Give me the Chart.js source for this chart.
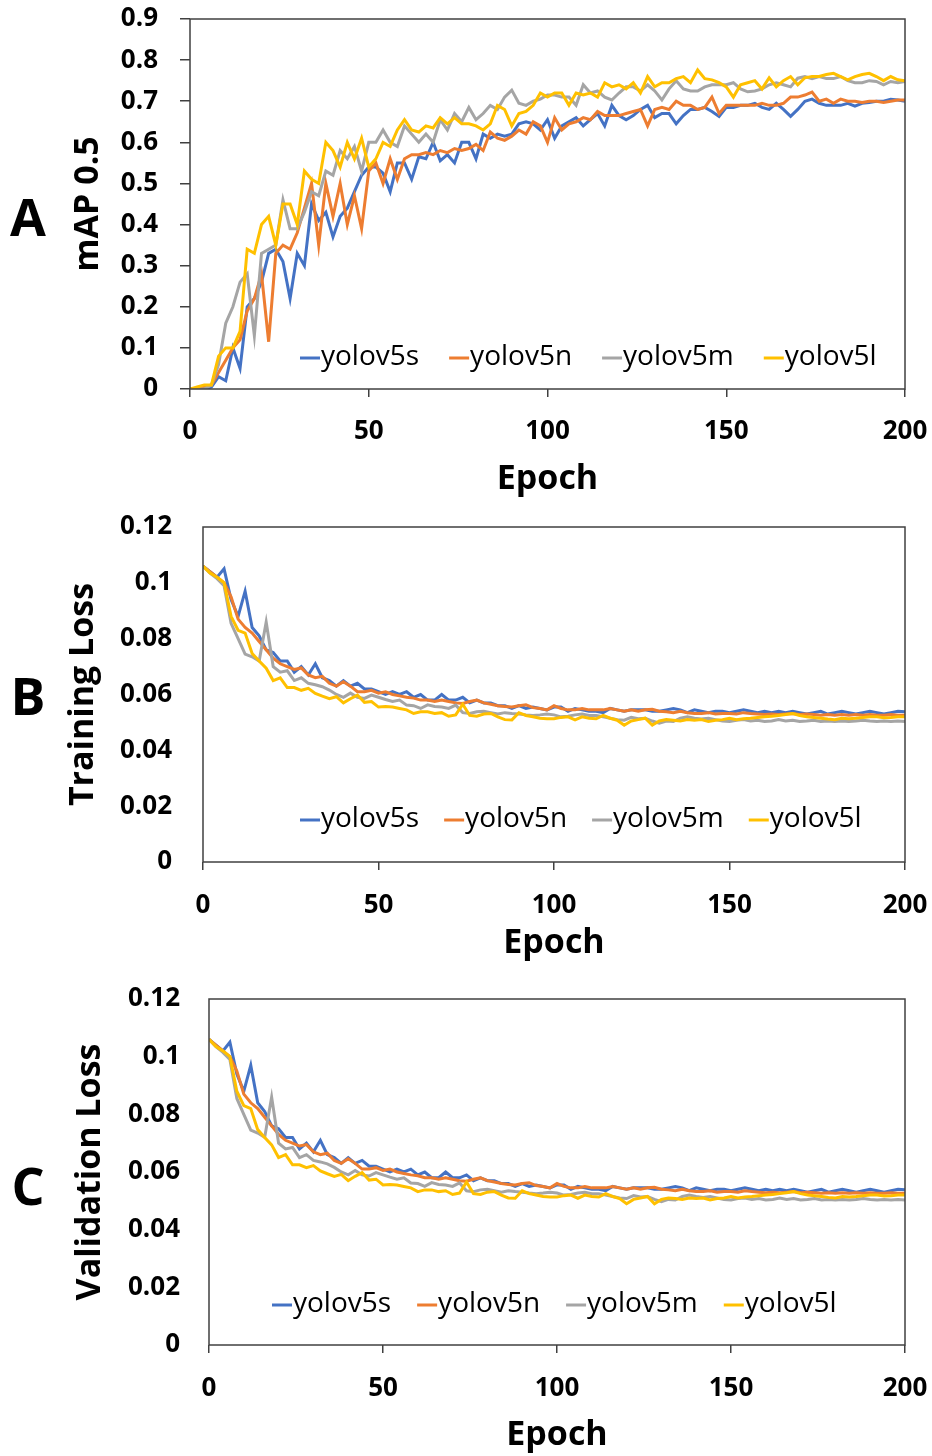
<!DOCTYPE html>
<html>
<head>
<meta charset="utf-8">
<script src="https://cdn.jsdelivr.net/npm/chart.js@4.4.0/dist/chart.umd.min.js"></script>
<style>
  body { margin: 0; background: #fff; width: 932px; height: 1456px; position: relative; overflow: hidden; font-family: "Open Sans", sans-serif; }
  canvas { position: absolute; left: 0; }
  .tag { position: absolute; left: 0; width: 56px; text-align: center; font-size: 52px; font-weight: bold; line-height: 52px; color: #000; }
</style>
</head>
<body>
<canvas id="map-chart" width="932" height="500" style="top:0"></canvas>
<canvas id="train-chart" width="932" height="470" style="top:500px"></canvas>
<canvas id="val-chart" width="932" height="486" style="top:970px"></canvas>
<div class="tag" style="top:190px">A</div>
<div class="tag" style="top:669px">B</div>
<div class="tag" style="top:1159px">C</div>
<script>
// epochs (every 2nd epoch)
var epochs = [0,2,4,6,8,10,12,14,16,18,20,22,24,26,28,30,32,34,36,38,40,42,44,46,48,50,52,54,56,58,
  60,62,64,66,68,70,72,74,76,78,80,82,84,86,88,90,92,94,96,98,100,102,104,106,108,110,112,114,116,118,
  120,122,124,126,128,130,132,134,136,138,140,142,144,146,148,150,152,154,156,158,160,162,164,166,168,170,
  172,174,176,178,180,182,184,186,188,190,192,194,196,198,200];

var names = ['yolov5s', 'yolov5n', 'yolov5m', 'yolov5l'];
var colors = ['#4472C4', '#ED7D31', '#A5A5A5', '#FFC000'];

// A - mAP 0.5
var mapS = [0,0,0,0.005,0.03,0.02,0.1,0.05,0.2,0.22,
  0.26,0.33,0.34,0.31,0.22,0.33,0.3,0.45,0.41,0.43,
  0.37,0.42,0.44,0.48,0.52,0.54,0.54,0.525,0.48,0.55,
  0.55,0.51,0.565,0.56,0.6,0.555,0.57,0.55,0.6,0.6,
  0.56,0.62,0.61,0.62,0.615,0.62,0.645,0.65,0.645,0.63,
  0.655,0.61,0.64,0.65,0.66,0.64,0.655,0.67,0.64,0.69,
  0.665,0.655,0.665,0.68,0.69,0.66,0.67,0.67,0.645,0.665,
  0.68,0.68,0.685,0.675,0.663,0.685,0.685,0.69,0.69,0.695,
  0.685,0.68,0.695,0.68,0.663,0.68,0.7,0.705,0.695,0.69,
  0.69,0.69,0.695,0.688,0.695,0.697,0.7,0.7,0.705,0.703,
  0.7];
var mapN = [0,0,0.005,0.01,0.04,0.07,0.1,0.12,0.19,0.22,
  0.28,0.115,0.33,0.35,0.34,0.38,0.44,0.5,0.35,0.5,
  0.42,0.5,0.4,0.47,0.39,0.53,0.55,0.5,0.56,0.51,
  0.56,0.57,0.57,0.575,0.57,0.58,0.575,0.585,0.58,0.585,
  0.595,0.58,0.625,0.61,0.605,0.615,0.63,0.62,0.65,0.64,
  0.6,0.66,0.63,0.645,0.65,0.66,0.655,0.675,0.665,0.665,
  0.665,0.67,0.675,0.68,0.64,0.68,0.685,0.68,0.7,0.69,
  0.69,0.68,0.685,0.71,0.67,0.69,0.69,0.69,0.69,0.69,
  0.695,0.69,0.69,0.695,0.71,0.71,0.715,0.722,0.7,0.705,
  0.695,0.705,0.7,0.7,0.697,0.7,0.7,0.697,0.7,0.703,
  0.703];
var mapM = [0,0,0,0.01,0.06,0.16,0.2,0.26,0.28,0.13,
  0.33,0.34,0.35,0.46,0.39,0.39,0.43,0.48,0.47,0.53,
  0.52,0.58,0.56,0.59,0.53,0.6,0.6,0.63,0.6,0.59,
  0.64,0.62,0.6,0.62,0.6,0.655,0.63,0.67,0.65,0.685,
  0.655,0.67,0.69,0.68,0.71,0.727,0.695,0.69,0.7,0.705,
  0.715,0.715,0.71,0.71,0.69,0.74,0.72,0.725,0.71,0.703,
  0.72,0.735,0.735,0.725,0.74,0.725,0.703,0.73,0.75,0.73,
  0.725,0.725,0.735,0.74,0.74,0.74,0.745,0.73,0.723,0.725,
  0.73,0.74,0.745,0.74,0.735,0.756,0.76,0.755,0.76,0.755,
  0.755,0.76,0.75,0.745,0.745,0.75,0.748,0.74,0.748,0.745,
  0.748];
var mapL = [0,0.005,0.01,0.01,0.08,0.1,0.1,0.14,0.34,0.33,
  0.4,0.42,0.35,0.45,0.45,0.4,0.53,0.51,0.5,0.6,
  0.58,0.54,0.6,0.56,0.61,0.54,0.56,0.6,0.59,0.63,
  0.655,0.63,0.625,0.64,0.635,0.66,0.645,0.66,0.645,0.645,
  0.64,0.63,0.645,0.69,0.68,0.64,0.67,0.675,0.69,0.72,
  0.71,0.72,0.72,0.69,0.72,0.715,0.72,0.71,0.745,0.735,
  0.74,0.73,0.745,0.72,0.76,0.735,0.745,0.745,0.755,0.76,
  0.745,0.776,0.755,0.752,0.745,0.735,0.71,0.74,0.745,0.75,
  0.73,0.757,0.735,0.75,0.76,0.74,0.757,0.76,0.76,0.765,
  0.768,0.76,0.752,0.76,0.765,0.768,0.76,0.75,0.76,0.752,
  0.75];

// B / C - loss (the validation panel shows the same curves)
var lossS = [0.106,0.104,0.102,0.105,0.094,0.088,0.097,0.084,0.081,0.076,
  0.075,0.072,0.072,0.068,0.07,0.067,0.071,0.066,0.065,0.063,
  0.065,0.063,0.064,0.062,0.062,0.061,0.06,0.061,0.06,0.061,
  0.059,0.06,0.058,0.058,0.06,0.058,0.058,0.059,0.057,0.058,
  0.057,0.057,0.056,0.056,0.055,0.056,0.055,0.0555,0.055,0.0545,
  0.0555,0.0555,0.054,0.055,0.0545,0.054,0.054,0.0535,0.055,0.0545,
  0.054,0.0545,0.0545,0.0545,0.054,0.054,0.0545,0.055,0.0545,0.0535,
  0.0545,0.054,0.0535,0.054,0.054,0.0535,0.054,0.0545,0.054,0.0535,
  0.054,0.0535,0.054,0.0535,0.054,0.0535,0.053,0.0535,0.054,0.053,
  0.0535,0.054,0.0535,0.053,0.0535,0.054,0.0535,0.053,0.0535,0.054,
  0.0538];
var lossN = [0.106,0.104,0.102,0.1,0.095,0.087,0.084,0.082,0.079,0.076,
  0.073,0.071,0.07,0.069,0.0695,0.067,0.066,0.0665,0.064,0.063,
  0.0646,0.063,0.061,0.061,0.0615,0.0605,0.061,0.06,0.0595,0.059,
  0.0587,0.058,0.058,0.0575,0.058,0.0575,0.057,0.0568,0.0575,0.058,
  0.057,0.0565,0.056,0.0557,0.0555,0.056,0.0563,0.0553,0.055,0.0545,
  0.056,0.055,0.0545,0.0545,0.055,0.0545,0.0545,0.0545,0.055,0.0545,
  0.054,0.0545,0.054,0.0545,0.0547,0.054,0.0538,0.0535,0.054,0.0535,
  0.0532,0.0532,0.0535,0.053,0.0532,0.0532,0.053,0.0535,0.0532,0.053,
  0.0528,0.053,0.0528,0.053,0.0532,0.0528,0.053,0.0528,0.0526,0.0528,
  0.0526,0.0528,0.0526,0.0528,0.0526,0.0528,0.0526,0.0526,0.0528,0.0526,
  0.0526];
var lossM = [0.106,0.1035,0.1015,0.099,0.0855,0.08,0.0745,0.0735,0.072,0.086,
  0.07,0.068,0.0685,0.065,0.066,0.064,0.0635,0.0628,0.0616,0.06,
  0.059,0.0605,0.059,0.0586,0.0598,0.059,0.0582,0.0575,0.058,0.0562,
  0.056,0.055,0.0563,0.0557,0.0555,0.055,0.0562,0.0535,0.0532,0.0538,
  0.054,0.0535,0.053,0.0535,0.0532,0.053,0.0527,0.0525,0.0527,0.053,
  0.0527,0.052,0.0522,0.0527,0.053,0.0525,0.0525,0.052,0.0515,0.051,
  0.0508,0.0518,0.0513,0.0515,0.0505,0.0497,0.0505,0.0503,0.0515,0.052,
  0.0515,0.0512,0.0515,0.051,0.0505,0.0503,0.0508,0.051,0.0505,0.0508,
  0.0503,0.0505,0.051,0.0505,0.0508,0.0503,0.0505,0.0508,0.0503,0.0505,
  0.0503,0.0505,0.0503,0.0505,0.0508,0.0505,0.0503,0.0505,0.0503,0.0505,
  0.0503];
var lossL = [0.106,0.1035,0.102,0.1,0.088,0.083,0.082,0.0747,0.072,0.0694,
  0.065,0.066,0.0625,0.0625,0.0615,0.0622,0.0604,0.0594,0.0585,0.0592,
  0.057,0.0585,0.0598,0.0572,0.0575,0.0555,0.0557,0.0555,0.055,0.0545,
  0.0532,0.0538,0.0538,0.0532,0.0535,0.0522,0.0527,0.0565,0.0525,0.0522,
  0.053,0.0532,0.052,0.051,0.0509,0.0535,0.0525,0.052,0.0515,0.0513,
  0.0513,0.0518,0.052,0.0509,0.052,0.0515,0.0513,0.0525,0.0515,0.0508,
  0.049,0.0505,0.051,0.0515,0.049,0.0505,0.051,0.0508,0.0505,0.051,
  0.0508,0.051,0.0503,0.0508,0.051,0.0515,0.051,0.0513,0.0515,0.0518,
  0.052,0.0522,0.0525,0.0528,0.0532,0.0525,0.052,0.0518,0.0515,0.0512,
  0.051,0.0515,0.0513,0.0515,0.0518,0.052,0.052,0.0517,0.0518,0.052,
  0.052];

var tickFont = { family: 'Open Sans', size: 26, weight: 'bold' };
var titleFont = { family: 'Open Sans', size: 34, weight: 'bold' };

// box round the plot area
var frame = {
  id: 'frame',
  afterDatasetsDraw: function (chart) {
    var a = chart.chartArea, ctx = chart.ctx;
    ctx.save();
    ctx.strokeStyle = '#404040';
    ctx.lineWidth = 1.5;
    ctx.strokeRect(a.left, a.top, a.right - a.left, a.bottom - a.top);
    ctx.restore();
  }
};

// legend sitting inside the plot, one row near the bottom
var inlineLegend = {
  id: 'inlineLegend',
  afterDraw: function (chart, args, opts) {
    var a = chart.chartArea, ctx = chart.ctx;
    var x = a.left + opts.x, y = a.bottom - opts.y;
    ctx.save();
    ctx.font = '28px "Open Sans"';
    ctx.textBaseline = 'middle';
    chart.data.datasets.forEach(function (ds) {
      ctx.strokeStyle = ds.borderColor;
      ctx.lineWidth = 3;
      ctx.beginPath();
      ctx.moveTo(x, y + 1);
      ctx.lineTo(x + 20, y + 1);
      ctx.stroke();
      ctx.fillStyle = '#000';
      ctx.fillText(ds.label, x + 21, y);
      x += 21 + ctx.measureText(ds.label).width + opts.gap;
    });
    ctx.restore();
  }
};

function makeChart(id, series, o) {
  return new Chart(document.getElementById(id), {
    type: 'line',
    data: {
      labels: epochs,
      datasets: series.map(function (s, i) {
        return {
          label: names[i],
          data: s,
          borderColor: colors[i],
          backgroundColor: colors[i],
          borderWidth: 3,
          pointRadius: 0,
          fill: false,
          order: 3 - i
        };
      })
    },
    options: {
      responsive: false,
      animation: false,
      layout: { padding: { top: o.top, right: 27, bottom: 0, left: 0 } },
      plugins: {
        legend: { display: false },
        tooltip: { enabled: false },
        inlineLegend: o.legend
      },
      scales: {
        x: {
          type: 'linear',
          min: 0,
          max: 200,
          ticks: { stepSize: 50, padding: o.xPad, font: tickFont, color: '#000', maxRotation: 0 },
          grid: { drawOnChartArea: false, tickLength: 8, color: '#404040', lineWidth: 1.5 },
          border: { display: false },
          title: { display: true, text: 'Epoch', font: titleFont, color: '#000', padding: { top: 0, bottom: o.xTitlePad } },
          afterFit: function (s) { s.height = o.xHeight; s.paddingLeft = 0; s.paddingRight = 0; }
        },
        y: {
          min: 0,
          max: o.yMax,
          ticks: {
            stepSize: o.yStep,
            padding: o.yPad,
            font: tickFont,
            color: '#000',
            callback: function (v) { return String(+v.toFixed(3)); }
          },
          grid: o.yTicks
            ? { drawOnChartArea: false, tickLength: 10, color: '#404040', lineWidth: 1.5 }
            : { display: false, drawTicks: false },
          border: { display: false },
          title: { display: true, text: o.yTitle, font: titleFont, color: '#000', padding: { top: o.yTitlePad, bottom: 0 } },
          afterFit: function (s) { s.width = o.yWidth; s.paddingTop = 0; s.paddingBottom = 0; }
        }
      }
    },
    plugins: [frame, inlineLegend]
  });
}

makeChart('map-chart', [mapS, mapN, mapM, mapL], {
  top: 19, xHeight: 111, xPad: 19, xTitlePad: 0,
  yMax: 0.9, yStep: 0.1, yPad: 22, yTicks: true, yWidth: 190,
  yTitle: 'mAP 0.5', yTitlePad: 68,
  legend: { x: 110, y: 32, gap: 30 }
});

makeChart('train-chart', [lossS, lossN, lossM, lossL], {
  top: 27, xHeight: 108, xPad: 20, xTitlePad: 6,
  yMax: 0.12, yStep: 0.02, yPad: 31, yTicks: false, yWidth: 203,
  yTitle: 'Training Loss', yTitlePad: 63,
  legend: { x: 97, y: 43, gap: 25 }
});

makeChart('val-chart', [lossS, lossN, lossM, lossL], {
  top: 29, xHeight: 111, xPad: 20, xTitlePad: 0,
  yMax: 0.12, yStep: 0.02, yPad: 29, yTicks: false, yWidth: 209,
  yTitle: 'Validation Loss', yTitlePad: 70,
  legend: { x: 63, y: 41, gap: 26 }
});
</script>
</body>
</html>
